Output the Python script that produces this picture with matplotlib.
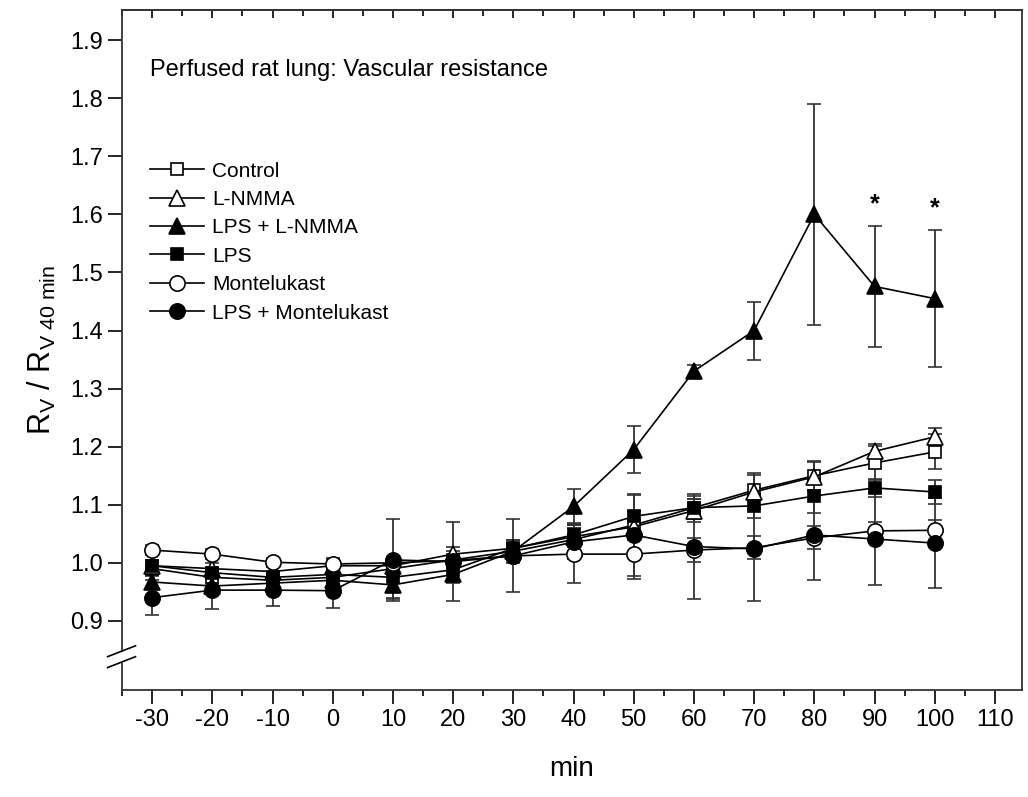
import matplotlib
matplotlib.use('Agg')
import matplotlib.pyplot as plt
import numpy as np

plt.rcParams['font.family'] = ['Liberation Sans', 'DejaVu Sans']
plt.rcParams['mathtext.fontset'] = 'custom'
plt.rcParams['mathtext.rm'] = 'Liberation Sans'
plt.rcParams['mathtext.it'] = 'Liberation Sans:italic'
plt.rcParams['axes.unicode_minus'] = False

# time points (min)
minutes = [-30, -20, -10, 0, 10, 20, 30, 40, 50, 60, 70, 80, 90, 100]

# R_V / R_V 40 min, mean and error per group
control = [0.99, 0.975, 0.97, 0.975, 0.99, 1.005, 1.02, 1.04, 1.065, 1.095, 1.125, 1.15, 1.172, 1.191]
control_err = [0.01, 0.012, 0.01, 0.012, 0.015, 0.015, 0.015, 0.02, 0.025, 0.015, 0.03, 0.025, 0.03, 0.03]
lnmma = [0.995, 0.99, 0.985, 0.995, 0.995, 1.015, 1.025, 1.045, 1.062, 1.09, 1.122, 1.148, 1.192, 1.217]
lnmma_err = [0.01, 0.01, 0.01, 0.012, 0.01, 0.012, 0.015, 0.015, 0.02, 0.02, 0.03, 0.025, 0.012, 0.015]
lps_lnmma = [0.967, 0.96, 0.965, 0.97, 0.962, 0.98, 1.02, 1.097, 1.195, 1.33, 1.40, 1.60, 1.476, 1.455]
lps_lnmma_err = [0.01, 0.012, 0.01, 0.01, 0.025, 0.015, 0.015, 0.03, 0.04, 0.01, 0.05, 0.19, 0.104, 0.118]
lps = [0.995, 0.983, 0.975, 0.98, 0.975, 0.988, 1.025, 1.048, 1.08, 1.095, 1.098, 1.115, 1.129, 1.122]
lps_err = [0.01, 0.01, 0.01, 0.012, 0.035, 0.02, 0.015, 0.02, 0.037, 0.02, 0.02, 0.03, 0.015, 0.02]
montelukast = [1.022, 1.015, 1.001, 0.998, 1.0, 1.004, 1.012, 1.015, 1.015, 1.022, 1.026, 1.043, 1.055, 1.056]
montelukast_err = [0.008, 0.008, 0.008, 0.01, 0.01, 0.01, 0.012, 0.05, 0.042, 0.02, 0.02, 0.02, 0.015, 0.018]
lps_mont = [0.94, 0.953, 0.953, 0.952, 1.005, 1.002, 1.012, 1.036, 1.048, 1.028, 1.024, 1.048, 1.041, 1.034]
lps_mont_err = [0.03, 0.032, 0.028, 0.03, 0.07, 0.068, 0.063, 0.03, 0.07, 0.09, 0.09, 0.078, 0.08, 0.077]

# significant points (on LPS + L-NMMA)
sig_min = [90, 100]

series = [
    ('Control', control, control_err, 's', 'white', 9),
    ('L-NMMA', lnmma, lnmma_err, '^', 'white', 12),
    ('LPS + L-NMMA', lps_lnmma, lps_lnmma_err, '^', 'black', 12),
    ('LPS', lps, lps_err, 's', 'black', 9),
    ('Montelukast', montelukast, montelukast_err, 'o', 'white', 11),
    ('LPS + Montelukast', lps_mont, lps_mont_err, 'o', 'black', 11),
]

fig = plt.figure(figsize=(10.28, 7.97), dpi=100)
ax = fig.add_axes([122 / 1028, 107 / 797, 900 / 1028, 680 / 797])

handles = []
labels = []
for label, y, err, mk, fc, ms in series:
    h = ax.errorbar(minutes, y, yerr=err, color='black', ecolor='#333333',
                    elinewidth=1.3, capsize=5, capthick=1.3, lw=1.2,
                    marker=mk, ms=ms, mfc=fc, mec='black', mew=1.2)
    handles.append(h[0])
    labels.append(label)

# asterisks above LPS + L-NMMA
for m in sig_min:
    i = minutes.index(m)
    top = lps_lnmma[i] + lps_lnmma_err[i]
    ax.text(m, top + 0.038, '*', ha='center', va='center', fontsize=18, fontweight='bold')

ax.set_xlim(-35, 114.5)
ax.set_ylim(0.781, 1.952)
ax.set_xticks(np.arange(-30, 111, 10))
ax.set_xticks(np.arange(-35, 115, 5), minor=True)
ax.set_yticks(np.arange(0.9, 1.91, 0.1))
ax.tick_params(axis='both', which='major', direction='out', length=10, width=1.2, labelsize=17)
ax.tick_params(axis='x', which='minor', direction='out', length=4, width=1.2)
ax.yaxis.set_major_formatter(plt.FuncFormatter(lambda v, p: f'{v:.1f}'))
for s in ax.spines.values():
    s.set_linewidth(1.3)
    s.set_color('#333333')

# inward ticks along the top frame
top_ax = ax.secondary_xaxis('top')
top_ax.set_xticks(np.arange(-30, 111, 10))
top_ax.set_xticks(np.arange(-35, 115, 5), minor=True)
top_ax.tick_params(which='major', direction='in', length=6, width=1.2, labeltop=False)
top_ax.tick_params(which='minor', direction='in', length=4, width=1.2)
top_ax.spines['top'].set_linewidth(1.3)
top_ax.spines['top'].set_color('#333333')

ax.text(0.031, 0.912, 'Perfused rat lung: Vascular resistance', transform=ax.transAxes,
        fontsize=17, va='center', ha='left')

ax.set_xlabel('min', fontsize=20, labelpad=18)
ax.set_ylabel(r'R$_\mathrm{V}$ / R$_\mathrm{V\ 40\ min}$', fontsize=22, labelpad=9)

ax.legend(handles, labels, loc='upper left', bbox_to_anchor=(0.031, 0.777), frameon=False,
          fontsize=15, handlelength=2.6, handletextpad=0.4, labelspacing=0.45,
          borderaxespad=0, borderpad=0)

# axis break on y
bx = [-0.016, 0.015]
for base in [0.033, 0.049]:
    ax.plot(bx, [base, base + 0.016], transform=ax.transAxes, color='black',
            lw=1.2, clip_on=False, zorder=6)
ax.fill([-0.004, 0.004, 0.004, -0.004], [0.039, 0.043, 0.057, 0.053], transform=ax.transAxes,
        color='white', clip_on=False, zorder=5)

fig.savefig('out.png', dpi=100)
